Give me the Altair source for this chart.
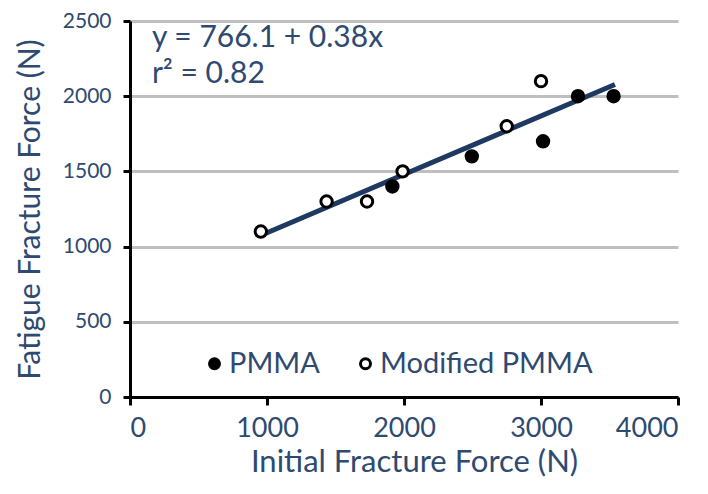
import altair as alt
import pandas as pd

# Data
pmma_x = [1915, 2495, 3015, 3270, 3530]
pmma_y = [1400, 1600, 1700, 2000, 2000]
mod_x = [955, 1435, 1730, 1990, 2750, 3000]
mod_y = [1100, 1300, 1300, 1500, 1800, 2100]

fit_x = [945, 3540]
fit_y = [1070, 2078]

eq_lines = ["y = 766.1 + 0.38x", "r² = 0.82"]
eq_x = [160, 160]
eq_y = [2325, 2090]

groups = ["PMMA", "Modified PMMA"]
x_ticks = [0, 1000, 2000, 3000, 4000]
y_ticks = [0, 500, 1000, 1500, 2000, 2500]

TEXT = "#2E4A70"
LINE = "#1F3A62"
FONT = "Lato"

pts = pd.DataFrame({
    "x": pmma_x + mod_x,
    "y": pmma_y + mod_y,
    "group": [groups[0]] * len(pmma_x) + [groups[1]] * len(mod_x),
})
fit = pd.DataFrame({"x": fit_x, "y": fit_y})
eq = pd.DataFrame({"label": eq_lines, "x": eq_x, "y": eq_y})

xscale = alt.Scale(domain=[0, 4000], nice=False)
yscale = alt.Scale(domain=[0, 2500], nice=False)

xaxis = alt.Axis(values=x_ticks, format="d", grid=False, title="Initial Fracture Force (N)",
                 domainColor="black", domainWidth=3, tickColor="black", tickWidth=3, tickSize=8,
                 labelFont=FONT, labelFontSize=27, labelColor=TEXT, labelPadding=10,
                 titleFont=FONT, titleFontSize=31, titleColor=TEXT, titleFontWeight="normal",
                 titleBaseline="alphabetic", titleX=284, titleY=74)
yaxis = alt.Axis(values=y_ticks, format="d", grid=True, gridColor="#BFBFBF", gridWidth=3,
                 title="Fatigue  Fracture Force (N)",
                 domainColor="black", domainWidth=3, tickColor="black", tickWidth=3, tickSize=7,
                 labelFont=FONT, labelFontSize=21, labelColor=TEXT, labelPadding=12,
                 titleFont=FONT, titleFontSize=30, titleColor=TEXT, titleFontWeight="normal",
                 titleBaseline="alphabetic", titleX=-91, titleY=188, titleAngle=270)

line = alt.Chart(fit).mark_line(color=LINE, strokeWidth=5).encode(
    x=alt.X("x:Q", scale=xscale, axis=xaxis),
    y=alt.Y("y:Q", scale=yscale, axis=yaxis),
)

points = alt.Chart(pts).mark_point(shape="circle", stroke="black", strokeWidth=3, size=130,
                                   opacity=1, fillOpacity=1).encode(
    x=alt.X("x:Q", scale=xscale),
    y=alt.Y("y:Q", scale=yscale),
    fill=alt.Fill("group:N", scale=alt.Scale(domain=groups, range=["black", "white"]),
                  legend=alt.Legend(title=None, orient="none", legendX=70, legendY=328,
                                    direction="horizontal", symbolType="circle", symbolSize=100,
                                    symbolStrokeColor="black", symbolStrokeWidth=3,
                                    labelFont=FONT, labelFontSize=29, labelColor=TEXT, labelLimit=0,
                                    labelOffset=0, columnPadding=31, padding=0)),
)

text = alt.Chart(eq).mark_text(align="left", baseline="alphabetic", font=FONT, fontSize=30, color=TEXT).encode(
    x=alt.X("x:Q", scale=xscale),
    y=alt.Y("y:Q", scale=yscale),
    text="label:N",
)

chart = alt.layer(line, points, text).properties(
    width=548, height=376,
    autosize=alt.AutoSizeParams(type="none"),
    padding={"left": 122, "top": 13, "right": 22, "bottom": 84},
).configure_view(stroke=None)

chart.save("out.html", embed_options={"renderer": "svg", "actions": False})
